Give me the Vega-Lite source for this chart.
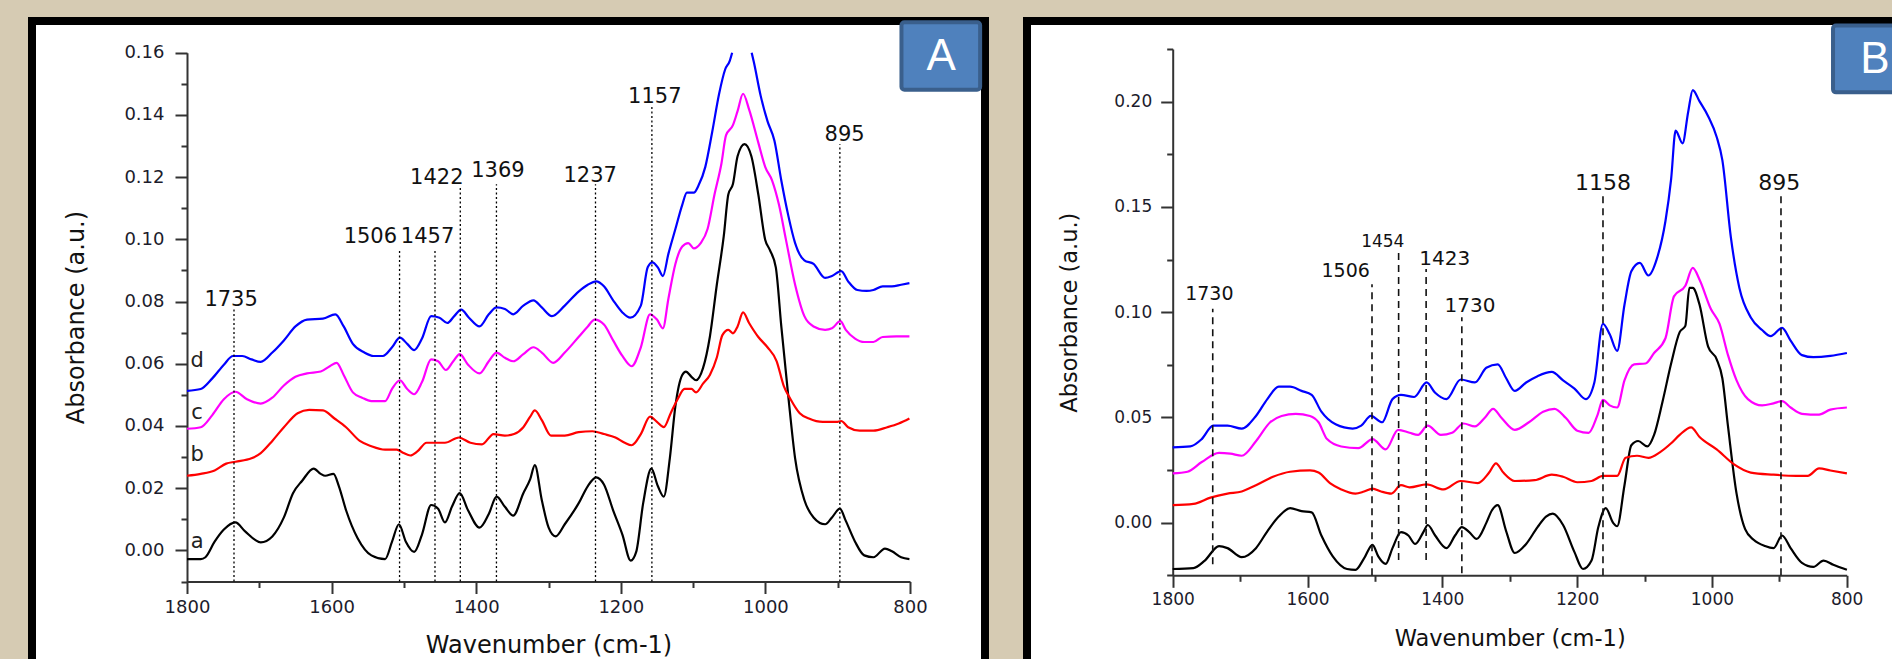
{
"$schema": "https://vega.github.io/schema/vega-lite/v6.json",
"background": "#d6cbb3",
"padding": {"left": 28, "top": 16, "right": 0, "bottom": 0},
"spacing": 34,
"config": {
  "view": {"stroke": "#000000", "strokeWidth": 8, "fill": "#ffffff"},
  "axis": {"grid": false, "domainColor": "#333333", "domainWidth": 2, "tickColor": "#333333", "tickWidth": 2, "labelFont": "DejaVu Sans", "labelColor": "#1c1c2c", "titleFont": "DejaVu Sans", "titleFontWeight": "normal", "titleColor": "#111111", "labelFlush": false, "labelOverlap": false},
  "text": {"font": "DejaVu Sans", "color": "#111111"}
},
"datasets": {
  "A": [
    {"s":"a","wn":1800,"v":-0.0028},{"s":"a","wn":1781,"v":-0.0028},{"s":"a","wn":1774.5,"v":-0.0022},{"s":"a","wn":1761.8,"v":0.0028},{"s":"a","wn":1749,"v":0.0067},{"s":"a","wn":1733,"v":0.009},{"s":"a","wn":1720,"v":0.0062},{"s":"a","wn":1698,"v":0.0026},{"s":"a","wn":1682,"v":0.0045},{"s":"a","wn":1666,"v":0.0106},{"s":"a","wn":1653.4,"v":0.0184},{"s":"a","wn":1640.7,"v":0.0224},{"s":"a","wn":1624.8,"v":0.0263},{"s":"a","wn":1615,"v":0.0246},{"s":"a","wn":1608.8,"v":0.024},{"s":"a","wn":1597.4,"v":0.0246},{"s":"a","wn":1590,"v":0.0207},{"s":"a","wn":1580,"v":0.0129},{"s":"a","wn":1564,"v":0.0039},{"s":"a","wn":1545,"v":-0.0016},{"s":"a","wn":1526,"v":-0.0028},{"s":"a","wn":1516.4,"v":0.0028},{"s":"a","wn":1506.9,"v":0.0084},{"s":"a","wn":1497.3,"v":0.0028},{"s":"a","wn":1485.8,"v":-0.0005},{"s":"a","wn":1475,"v":0.0051},{"s":"a","wn":1462.3,"v":0.0146},{"s":"a","wn":1452.7,"v":0.0134},{"s":"a","wn":1443.2,"v":0.009},{"s":"a","wn":1433.6,"v":0.014},{"s":"a","wn":1422.8,"v":0.0184},{"s":"a","wn":1411.3,"v":0.0129},{"s":"a","wn":1395.4,"v":0.0073},{"s":"a","wn":1382.6,"v":0.0117},{"s":"a","wn":1371.8,"v":0.0173},{"s":"a","wn":1360.3,"v":0.014},{"s":"a","wn":1348.8,"v":0.0112},{"s":"a","wn":1334.8,"v":0.0184},{"s":"a","wn":1325.3,"v":0.0229},{"s":"a","wn":1318.9,"v":0.0274},{"s":"a","wn":1309.3,"v":0.0162},{"s":"a","wn":1299.8,"v":0.0073},{"s":"a","wn":1290.2,"v":0.0045},{"s":"a","wn":1277.5,"v":0.0084},{"s":"a","wn":1258.4,"v":0.0151},{"s":"a","wn":1245.6,"v":0.0207},{"s":"a","wn":1234.1,"v":0.0235},{"s":"a","wn":1223.3,"v":0.0212},{"s":"a","wn":1210.6,"v":0.0129},{"s":"a","wn":1197.8,"v":0.0051},{"s":"a","wn":1186.3,"v":-0.0033},{"s":"a","wn":1178.7,"v":-0.0005},{"s":"a","wn":1169.1,"v":0.0151},{"s":"a","wn":1157.7,"v":0.0263},{"s":"a","wn":1148.8,"v":0.0207},{"s":"a","wn":1140.5,"v":0.0173},{"s":"a","wn":1132.2,"v":0.0296},{"s":"a","wn":1124.5,"v":0.0464},{"s":"a","wn":1115,"v":0.0564},{"s":"a","wn":1109.9,"v":0.0575},{"s":"a","wn":1102.3,"v":0.0558},{"s":"a","wn":1095.9,"v":0.0547},{"s":"a","wn":1086.3,"v":0.0586},{"s":"a","wn":1076.8,"v":0.0687},{"s":"a","wn":1067.2,"v":0.0854},{"s":"a","wn":1057.6,"v":0.101},{"s":"a","wn":1051.3,"v":0.1144},{"s":"a","wn":1044.9,"v":0.1178},{"s":"a","wn":1038.5,"v":0.1267},{"s":"a","wn":1028.9,"v":0.1306},{"s":"a","wn":1019.4,"v":0.1267},{"s":"a","wn":1009.8,"v":0.1144},{"s":"a","wn":1000.3,"v":0.0999},{"s":"a","wn":993.9,"v":0.0966},{"s":"a","wn":985.6,"v":0.091},{"s":"a","wn":978,"v":0.072},{"s":"a","wn":968.4,"v":0.0497},{"s":"a","wn":958.9,"v":0.0296},{"s":"a","wn":946.1,"v":0.0162},{"s":"a","wn":933.4,"v":0.0106},{"s":"a","wn":917.4,"v":0.0084},{"s":"a","wn":907.9,"v":0.0106},{"s":"a","wn":897,"v":0.0134},{"s":"a","wn":888.8,"v":0.0095},{"s":"a","wn":876,"v":0.0028},{"s":"a","wn":863.3,"v":-0.0016},{"s":"a","wn":850.6,"v":-0.0022},{"s":"a","wn":834.6,"v":0.0006},{"s":"a","wn":825,"v":-0.0003},{"s":"a","wn":812.3,"v":-0.0022},{"s":"a","wn":800.8,"v":-0.0028},
    {"s":"b","wn":1800,"v":0.024},{"s":"b","wn":1781,"v":0.0246},{"s":"b","wn":1761.8,"v":0.0257},{"s":"b","wn":1745.8,"v":0.0279},{"s":"b","wn":1733,"v":0.0285},{"s":"b","wn":1710.8,"v":0.0296},{"s":"b","wn":1698,"v":0.0313},{"s":"b","wn":1682,"v":0.0352},{"s":"b","wn":1666,"v":0.0396},{"s":"b","wn":1647,"v":0.0441},{"s":"b","wn":1631,"v":0.0452},{"s":"b","wn":1612,"v":0.045},{"s":"b","wn":1596,"v":0.0424},{"s":"b","wn":1580,"v":0.0396},{"s":"b","wn":1561,"v":0.0352},{"s":"b","wn":1545,"v":0.0335},{"s":"b","wn":1526,"v":0.0324},{"s":"b","wn":1510,"v":0.0324},{"s":"b","wn":1500.5,"v":0.0313},{"s":"b","wn":1491,"v":0.0305},{"s":"b","wn":1481.4,"v":0.0318},{"s":"b","wn":1468.6,"v":0.0346},{"s":"b","wn":1455.9,"v":0.0346},{"s":"b","wn":1443.2,"v":0.0346},{"s":"b","wn":1424,"v":0.0363},{"s":"b","wn":1408,"v":0.0346},{"s":"b","wn":1392,"v":0.0341},{"s":"b","wn":1376,"v":0.0374},{"s":"b","wn":1360.3,"v":0.0369},{"s":"b","wn":1347.6,"v":0.0374},{"s":"b","wn":1334.8,"v":0.0396},{"s":"b","wn":1325.3,"v":0.043},{"s":"b","wn":1318.9,"v":0.045},{"s":"b","wn":1309.3,"v":0.0419},{"s":"b","wn":1296.6,"v":0.0369},{"s":"b","wn":1277.5,"v":0.0369},{"s":"b","wn":1258.4,"v":0.038},{"s":"b","wn":1239.3,"v":0.0383},{"s":"b","wn":1223.3,"v":0.0374},{"s":"b","wn":1207.4,"v":0.0363},{"s":"b","wn":1194.6,"v":0.0346},{"s":"b","wn":1185,"v":0.0338},{"s":"b","wn":1172.3,"v":0.0374},{"s":"b","wn":1159.6,"v":0.043},{"s":"b","wn":1150,"v":0.0413},{"s":"b","wn":1140.5,"v":0.0396},{"s":"b","wn":1131,"v":0.0441},{"s":"b","wn":1121.4,"v":0.0486},{"s":"b","wn":1111.8,"v":0.0519},{"s":"b","wn":1102.3,"v":0.0519},{"s":"b","wn":1095.9,"v":0.0508},{"s":"b","wn":1086.3,"v":0.0536},{"s":"b","wn":1076.8,"v":0.0564},{"s":"b","wn":1067.2,"v":0.062},{"s":"b","wn":1059.5,"v":0.0692},{"s":"b","wn":1051.3,"v":0.0709},{"s":"b","wn":1044.9,"v":0.0698},{"s":"b","wn":1038.5,"v":0.072},{"s":"b","wn":1030.9,"v":0.0765},{"s":"b","wn":1022.6,"v":0.0731},{"s":"b","wn":1009.8,"v":0.0686},{"s":"b","wn":997.1,"v":0.0653},{"s":"b","wn":984.4,"v":0.0608},{"s":"b","wn":974.8,"v":0.053},{"s":"b","wn":965.2,"v":0.0486},{"s":"b","wn":952.5,"v":0.0441},{"s":"b","wn":939.8,"v":0.0424},{"s":"b","wn":920.6,"v":0.0413},{"s":"b","wn":901.5,"v":0.0413},{"s":"b","wn":895.1,"v":0.0416},{"s":"b","wn":885.6,"v":0.0396},{"s":"b","wn":869.6,"v":0.0385},{"s":"b","wn":850.6,"v":0.0385},{"s":"b","wn":831.4,"v":0.0396},{"s":"b","wn":815.5,"v":0.0408},{"s":"b","wn":800.8,"v":0.0424},
    {"s":"c","wn":1800,"v":0.0391},{"s":"c","wn":1781,"v":0.0396},{"s":"c","wn":1765,"v":0.0435},{"s":"c","wn":1749,"v":0.0486},{"s":"c","wn":1733,"v":0.051},{"s":"c","wn":1717,"v":0.0486},{"s":"c","wn":1698,"v":0.0472},{"s":"c","wn":1682,"v":0.0491},{"s":"c","wn":1666,"v":0.053},{"s":"c","wn":1650,"v":0.0558},{"s":"c","wn":1634,"v":0.0569},{"s":"c","wn":1615,"v":0.0575},{"s":"c","wn":1602.5,"v":0.0592},{"s":"c","wn":1593,"v":0.0603},{"s":"c","wn":1583.3,"v":0.0564},{"s":"c","wn":1570.6,"v":0.0508},{"s":"c","wn":1557.9,"v":0.0491},{"s":"c","wn":1545,"v":0.048},{"s":"c","wn":1526,"v":0.048},{"s":"c","wn":1516.4,"v":0.0519},{"s":"c","wn":1505.6,"v":0.0547},{"s":"c","wn":1495.4,"v":0.0519},{"s":"c","wn":1485.8,"v":0.0502},{"s":"c","wn":1475,"v":0.0541},{"s":"c","wn":1462.3,"v":0.0614},{"s":"c","wn":1452.7,"v":0.0608},{"s":"c","wn":1441.9,"v":0.058},{"s":"c","wn":1431.7,"v":0.0608},{"s":"c","wn":1422.8,"v":0.0631},{"s":"c","wn":1411.3,"v":0.0597},{"s":"c","wn":1395.4,"v":0.0569},{"s":"c","wn":1382.6,"v":0.0608},{"s":"c","wn":1371.8,"v":0.0636},{"s":"c","wn":1360.3,"v":0.0619},{"s":"c","wn":1348.8,"v":0.0608},{"s":"c","wn":1334.8,"v":0.0631},{"s":"c","wn":1320.8,"v":0.0653},{"s":"c","wn":1309.3,"v":0.0636},{"s":"c","wn":1293.4,"v":0.0603},{"s":"c","wn":1277.5,"v":0.0636},{"s":"c","wn":1258.4,"v":0.0686},{"s":"c","wn":1245.6,"v":0.072},{"s":"c","wn":1236.1,"v":0.0742},{"s":"c","wn":1223.3,"v":0.0726},{"s":"c","wn":1210.6,"v":0.0675},{"s":"c","wn":1197.8,"v":0.0625},{"s":"c","wn":1185,"v":0.0592},{"s":"c","wn":1172.3,"v":0.0653},{"s":"c","wn":1159.6,"v":0.0759},{"s":"c","wn":1150,"v":0.0742},{"s":"c","wn":1141.8,"v":0.0714},{"s":"c","wn":1134.1,"v":0.081},{"s":"c","wn":1124.5,"v":0.0921},{"s":"c","wn":1115,"v":0.0977},{"s":"c","wn":1106.7,"v":0.0988},{"s":"c","wn":1099,"v":0.0971},{"s":"c","wn":1089.5,"v":0.0988},{"s":"c","wn":1080,"v":0.1033},{"s":"c","wn":1070.4,"v":0.1144},{"s":"c","wn":1060.8,"v":0.1244},{"s":"c","wn":1054.5,"v":0.1334},{"s":"c","wn":1044.9,"v":0.1367},{"s":"c","wn":1038.5,"v":0.1412},{"s":"c","wn":1030.9,"v":0.1468},{"s":"c","wn":1022.6,"v":0.1418},{"s":"c","wn":1009.8,"v":0.1311},{"s":"c","wn":1000.3,"v":0.1233},{"s":"c","wn":990.7,"v":0.1189},{"s":"c","wn":981.2,"v":0.1111},{"s":"c","wn":971.6,"v":0.0999},{"s":"c","wn":958.9,"v":0.0854},{"s":"c","wn":946.1,"v":0.0753},{"s":"c","wn":933.4,"v":0.072},{"s":"c","wn":917.4,"v":0.0709},{"s":"c","wn":907.9,"v":0.0714},{"s":"c","wn":896.4,"v":0.0737},{"s":"c","wn":888.8,"v":0.0709},{"s":"c","wn":876,"v":0.0681},{"s":"c","wn":863.3,"v":0.067},{"s":"c","wn":850.6,"v":0.067},{"s":"c","wn":837.8,"v":0.0686},{"s":"c","wn":818.7,"v":0.0688},{"s":"c","wn":800.8,"v":0.0688},
    {"s":"d","wn":1800,"v":0.0513},{"s":"d","wn":1781,"v":0.0519},{"s":"d","wn":1765,"v":0.0553},{"s":"d","wn":1749,"v":0.0597},{"s":"d","wn":1736.3,"v":0.0625},{"s":"d","wn":1723.5,"v":0.0625},{"s":"d","wn":1710.8,"v":0.0614},{"s":"d","wn":1698,"v":0.0606},{"s":"d","wn":1682,"v":0.0636},{"s":"d","wn":1666,"v":0.0675},{"s":"d","wn":1650,"v":0.072},{"s":"d","wn":1634,"v":0.0742},{"s":"d","wn":1612,"v":0.0745},{"s":"d","wn":1594.8,"v":0.0759},{"s":"d","wn":1583.3,"v":0.072},{"s":"d","wn":1570.6,"v":0.0664},{"s":"d","wn":1554.7,"v":0.0636},{"s":"d","wn":1541.9,"v":0.0625},{"s":"d","wn":1529.2,"v":0.0625},{"s":"d","wn":1516.4,"v":0.0653},{"s":"d","wn":1505.6,"v":0.0684},{"s":"d","wn":1495.4,"v":0.0664},{"s":"d","wn":1485.8,"v":0.0644},{"s":"d","wn":1475,"v":0.0681},{"s":"d","wn":1462.3,"v":0.0753},{"s":"d","wn":1450.8,"v":0.0748},{"s":"d","wn":1440,"v":0.0731},{"s":"d","wn":1430.4,"v":0.0753},{"s":"d","wn":1420.8,"v":0.0774},{"s":"d","wn":1410,"v":0.0748},{"s":"d","wn":1395.4,"v":0.072},{"s":"d","wn":1382.6,"v":0.0759},{"s":"d","wn":1371.8,"v":0.0781},{"s":"d","wn":1360.3,"v":0.0776},{"s":"d","wn":1348.8,"v":0.0759},{"s":"d","wn":1334.8,"v":0.0787},{"s":"d","wn":1320.8,"v":0.0804},{"s":"d","wn":1309.3,"v":0.0781},{"s":"d","wn":1295.3,"v":0.0753},{"s":"d","wn":1277.5,"v":0.0787},{"s":"d","wn":1258.4,"v":0.0832},{"s":"d","wn":1245.6,"v":0.0854},{"s":"d","wn":1234.1,"v":0.0865},{"s":"d","wn":1223.3,"v":0.0849},{"s":"d","wn":1210.6,"v":0.0804},{"s":"d","wn":1197.8,"v":0.0765},{"s":"d","wn":1187,"v":0.0748},{"s":"d","wn":1172.3,"v":0.0787},{"s":"d","wn":1162.8,"v":0.091},{"s":"d","wn":1156.4,"v":0.0926},{"s":"d","wn":1148.8,"v":0.091},{"s":"d","wn":1141.8,"v":0.0882},{"s":"d","wn":1134.1,"v":0.0954},{"s":"d","wn":1124.5,"v":0.1033},{"s":"d","wn":1115,"v":0.1111},{"s":"d","wn":1108.6,"v":0.115},{"s":"d","wn":1099,"v":0.115},{"s":"d","wn":1092.7,"v":0.1172},{"s":"d","wn":1083.1,"v":0.1233},{"s":"d","wn":1073.6,"v":0.1345},{"s":"d","wn":1064,"v":0.1468},{"s":"d","wn":1055.7,"v":0.1546},{"s":"d","wn":1049.3,"v":0.1574},{"s":"d","wn":1046,"v":0.16},
    {"s":"d","p":2,"wn":1019,"v":0.16},{"s":"d","p":2,"wn":1016,"v":0.157},{"s":"d","p":2,"wn":1006.6,"v":0.1462},{"s":"d","p":2,"wn":997,"v":0.1379},{"s":"d","p":2,"wn":987.5,"v":0.1317},{"s":"d","p":2,"wn":978,"v":0.1189},{"s":"d","p":2,"wn":968.4,"v":0.1077},{"s":"d","p":2,"wn":958.9,"v":0.0988},{"s":"d","p":2,"wn":946.1,"v":0.0932},{"s":"d","p":2,"wn":933.4,"v":0.0921},{"s":"d","p":2,"wn":917.4,"v":0.0876},{"s":"d","p":2,"wn":907.9,"v":0.0882},{"s":"d","p":2,"wn":895.1,"v":0.0898},{"s":"d","p":2,"wn":885.6,"v":0.0865},{"s":"d","p":2,"wn":872.8,"v":0.0837},{"s":"d","p":2,"wn":860.1,"v":0.0834},{"s":"d","p":2,"wn":850.6,"v":0.0837},{"s":"d","p":2,"wn":837.8,"v":0.0849},{"s":"d","p":2,"wn":825,"v":0.0849},{"s":"d","p":2,"wn":812.3,"v":0.0854},{"s":"d","p":2,"wn":800.8,"v":0.0859}
  ],
  "B": [
    {"s":"a","wn":1800,"v":-0.022},{"s":"a","wn":1769.3,"v":-0.0216},{"s":"a","wn":1752.4,"v":-0.018},{"s":"a","wn":1731.3,"v":-0.0111},{"s":"a","wn":1718.7,"v":-0.0121},{"s":"a","wn":1697.6,"v":-0.0164},{"s":"a","wn":1676.5,"v":-0.0121},{"s":"a","wn":1659.6,"v":-0.0041},{"s":"a","wn":1642.7,"v":0.0029},{"s":"a","wn":1625.8,"v":0.0069},{"s":"a","wn":1608.9,"v":0.0055},{"s":"a","wn":1593.8,"v":0.0049},{"s":"a","wn":1579.4,"v":-0.0061},{"s":"a","wn":1562.5,"v":-0.016},{"s":"a","wn":1541.4,"v":-0.022},{"s":"a","wn":1528.8,"v":-0.0224},{"s":"a","wn":1516.1,"v":-0.017},{"s":"a","wn":1503.5,"v":-0.0105},{"s":"a","wn":1495,"v":-0.016},{"s":"a","wn":1484,"v":-0.0196},{"s":"a","wn":1473.9,"v":-0.0121},{"s":"a","wn":1461.3,"v":-0.0045},{"s":"a","wn":1450.3,"v":-0.0061},{"s":"a","wn":1440.2,"v":-0.0101},{"s":"a","wn":1427.5,"v":-0.0041},{"s":"a","wn":1421.6,"v":-0.0011},{"s":"a","wn":1410.6,"v":-0.0061},{"s":"a","wn":1393.8,"v":-0.0121},{"s":"a","wn":1381.1,"v":-0.0061},{"s":"a","wn":1371,"v":-0.0021},{"s":"a","wn":1360,"v":-0.0045},{"s":"a","wn":1349,"v":-0.0077},{"s":"a","wn":1334.7,"v":-0.0001},{"s":"a","wn":1326.3,"v":0.0059},{"s":"a","wn":1317.8,"v":0.0083},{"s":"a","wn":1305.2,"v":-0.0041},{"s":"a","wn":1292.5,"v":-0.0144},{"s":"a","wn":1275.6,"v":-0.0101},{"s":"a","wn":1258.7,"v":-0.0021},{"s":"a","wn":1246.1,"v":0.0029},{"s":"a","wn":1236,"v":0.0043},{"s":"a","wn":1220.8,"v":-0.0011},{"s":"a","wn":1203.9,"v":-0.014},{"s":"a","wn":1191.3,"v":-0.022},{"s":"a","wn":1178.6,"v":-0.018},{"s":"a","wn":1168.5,"v":-0.0021},{"s":"a","wn":1157.5,"v":0.0069},{"s":"a","wn":1146.5,"v":-0.0001},{"s":"a","wn":1140.6,"v":-0.0017},{"s":"a","wn":1129.7,"v":0.0178},{"s":"a","wn":1119.5,"v":0.0368},{"s":"a","wn":1109.4,"v":0.0388},{"s":"a","wn":1095.9,"v":0.0362},{"s":"a","wn":1085.8,"v":0.0417},{"s":"a","wn":1073.1,"v":0.0577},{"s":"a","wn":1060.5,"v":0.0756},{"s":"a","wn":1047.8,"v":0.0905},{"s":"a","wn":1039.4,"v":0.0935},{"s":"a","wn":1033.4,"v":0.1115},{"s":"a","wn":1028.4,"v":0.1115},{"s":"a","wn":1018.3,"v":0.1035},{"s":"a","wn":1005.6,"v":0.0836},{"s":"a","wn":992.9,"v":0.0776},{"s":"a","wn":984.5,"v":0.0686},{"s":"a","wn":976.1,"v":0.0457},{"s":"a","wn":963.4,"v":0.0138},{"s":"a","wn":950.7,"v":-0.0031},{"s":"a","wn":938.1,"v":-0.0081},{"s":"a","wn":921.2,"v":-0.0111},{"s":"a","wn":908.5,"v":-0.0121},{"s":"a","wn":895.9,"v":-0.0061},{"s":"a","wn":883.2,"v":-0.0121},{"s":"a","wn":866.4,"v":-0.0191},{"s":"a","wn":849.5,"v":-0.021},{"s":"a","wn":834.3,"v":-0.018},{"s":"a","wn":819.9,"v":-0.02},{"s":"a","wn":799.7,"v":-0.0224},
    {"s":"b","wn":1800,"v":0.0083},{"s":"b","wn":1769.3,"v":0.0089},{"s":"b","wn":1744,"v":0.0119},{"s":"b","wn":1718.7,"v":0.0138},{"s":"b","wn":1697.6,"v":0.0148},{"s":"b","wn":1676.5,"v":0.0178},{"s":"b","wn":1651.2,"v":0.0218},{"s":"b","wn":1625.8,"v":0.0242},{"s":"b","wn":1596.3,"v":0.0248},{"s":"b","wn":1583.6,"v":0.0238},{"s":"b","wn":1566.7,"v":0.0188},{"s":"b","wn":1549.9,"v":0.0158},{"s":"b","wn":1528.8,"v":0.0138},{"s":"b","wn":1516.1,"v":0.0148},{"s":"b","wn":1503.5,"v":0.0162},{"s":"b","wn":1490.8,"v":0.0148},{"s":"b","wn":1475.6,"v":0.0138},{"s":"b","wn":1461.3,"v":0.0178},{"s":"b","wn":1448.6,"v":0.0168},{"s":"b","wn":1423.3,"v":0.0182},{"s":"b","wn":1398,"v":0.0158},{"s":"b","wn":1372.7,"v":0.0198},{"s":"b","wn":1347.3,"v":0.0188},{"s":"b","wn":1330.5,"v":0.0238},{"s":"b","wn":1320.4,"v":0.0282},{"s":"b","wn":1309.4,"v":0.0238},{"s":"b","wn":1292.5,"v":0.0198},{"s":"b","wn":1263,"v":0.0202},{"s":"b","wn":1237.6,"v":0.0228},{"s":"b","wn":1220.8,"v":0.0218},{"s":"b","wn":1199.7,"v":0.0192},{"s":"b","wn":1178.6,"v":0.0198},{"s":"b","wn":1161.7,"v":0.0222},{"s":"b","wn":1140.6,"v":0.0222},{"s":"b","wn":1128,"v":0.0308},{"s":"b","wn":1111.1,"v":0.0318},{"s":"b","wn":1094.2,"v":0.0308},{"s":"b","wn":1077.3,"v":0.0334},{"s":"b","wn":1060.5,"v":0.0377},{"s":"b","wn":1047.8,"v":0.0417},{"s":"b","wn":1030.9,"v":0.0453},{"s":"b","wn":1018.3,"v":0.0407},{"s":"b","wn":992.9,"v":0.0348},{"s":"b","wn":967.6,"v":0.0278},{"s":"b","wn":942.3,"v":0.0238},{"s":"b","wn":908.5,"v":0.0228},{"s":"b","wn":874.8,"v":0.0222},{"s":"b","wn":857.9,"v":0.0222},{"s":"b","wn":841,"v":0.0258},{"s":"b","wn":824.2,"v":0.0248},{"s":"b","wn":799.7,"v":0.0234},
    {"s":"c","wn":1800,"v":0.0234},{"s":"c","wn":1778,"v":0.0242},{"s":"c","wn":1756.9,"v":0.0288},{"s":"c","wn":1731.3,"v":0.0332},{"s":"c","wn":1714.4,"v":0.0328},{"s":"c","wn":1697.6,"v":0.0318},{"s":"c","wn":1676.5,"v":0.0387},{"s":"c","wn":1655.4,"v":0.0477},{"s":"c","wn":1638.5,"v":0.0507},{"s":"c","wn":1617.4,"v":0.0517},{"s":"c","wn":1596.3,"v":0.0507},{"s":"c","wn":1583.6,"v":0.0477},{"s":"c","wn":1571,"v":0.0397},{"s":"c","wn":1549.9,"v":0.0362},{"s":"c","wn":1524.6,"v":0.0354},{"s":"c","wn":1503.5,"v":0.0397},{"s":"c","wn":1484,"v":0.0348},{"s":"c","wn":1465.5,"v":0.0441},{"s":"c","wn":1448.6,"v":0.0427},{"s":"c","wn":1436,"v":0.0417},{"s":"c","wn":1421.6,"v":0.0461},{"s":"c","wn":1402.2,"v":0.0417},{"s":"c","wn":1385.4,"v":0.0427},{"s":"c","wn":1368.5,"v":0.0471},{"s":"c","wn":1351.6,"v":0.0457},{"s":"c","wn":1337.3,"v":0.0497},{"s":"c","wn":1324.6,"v":0.0541},{"s":"c","wn":1312,"v":0.0497},{"s":"c","wn":1292.5,"v":0.0441},{"s":"c","wn":1271.5,"v":0.0477},{"s":"c","wn":1250.4,"v":0.0527},{"s":"c","wn":1233.5,"v":0.0541},{"s":"c","wn":1216.6,"v":0.0497},{"s":"c","wn":1199.7,"v":0.0437},{"s":"c","wn":1182.8,"v":0.0427},{"s":"c","wn":1170.2,"v":0.0507},{"s":"c","wn":1161.7,"v":0.0583},{"s":"c","wn":1151.6,"v":0.0557},{"s":"c","wn":1140.6,"v":0.0547},{"s":"c","wn":1129.7,"v":0.0676},{"s":"c","wn":1115.4,"v":0.0752},{"s":"c","wn":1098.5,"v":0.0756},{"s":"c","wn":1085.8,"v":0.0806},{"s":"c","wn":1068.9,"v":0.0876},{"s":"c","wn":1056.3,"v":0.1075},{"s":"c","wn":1039.4,"v":0.1125},{"s":"c","wn":1028.4,"v":0.121},{"s":"c","wn":1018.3,"v":0.1154},{"s":"c","wn":1001.5,"v":0.1015},{"s":"c","wn":988.8,"v":0.0945},{"s":"c","wn":976.1,"v":0.0796},{"s":"c","wn":963.4,"v":0.0676},{"s":"c","wn":946.6,"v":0.0587},{"s":"c","wn":925.5,"v":0.0557},{"s":"c","wn":908.5,"v":0.0567},{"s":"c","wn":895.9,"v":0.0577},{"s":"c","wn":883.2,"v":0.0547},{"s":"c","wn":866.4,"v":0.0517},{"s":"c","wn":841,"v":0.0513},{"s":"c","wn":824.2,"v":0.0537},{"s":"c","wn":799.7,"v":0.0547},
    {"s":"d","wn":1800,"v":0.0358},{"s":"d","wn":1773.8,"v":0.0362},{"s":"d","wn":1756.9,"v":0.0397},{"s":"d","wn":1740,"v":0.0461},{"s":"d","wn":1718.7,"v":0.0461},{"s":"d","wn":1697.6,"v":0.0447},{"s":"d","wn":1676.5,"v":0.0507},{"s":"d","wn":1659.6,"v":0.0587},{"s":"d","wn":1642.7,"v":0.0646},{"s":"d","wn":1625.8,"v":0.0646},{"s":"d","wn":1608.9,"v":0.0626},{"s":"d","wn":1593.8,"v":0.0607},{"s":"d","wn":1579.4,"v":0.0527},{"s":"d","wn":1558.3,"v":0.0467},{"s":"d","wn":1533,"v":0.0447},{"s":"d","wn":1520.3,"v":0.0461},{"s":"d","wn":1506,"v":0.0507},{"s":"d","wn":1489.1,"v":0.0477},{"s":"d","wn":1473.9,"v":0.0587},{"s":"d","wn":1461.3,"v":0.0607},{"s":"d","wn":1441.8,"v":0.0597},{"s":"d","wn":1423.3,"v":0.0666},{"s":"d","wn":1410.6,"v":0.0617},{"s":"d","wn":1393.8,"v":0.0587},{"s":"d","wn":1372.7,"v":0.068},{"s":"d","wn":1351.6,"v":0.0666},{"s":"d","wn":1334.7,"v":0.0736},{"s":"d","wn":1317.8,"v":0.0752},{"s":"d","wn":1305.2,"v":0.0686},{"s":"d","wn":1292.5,"v":0.0626},{"s":"d","wn":1275.6,"v":0.0666},{"s":"d","wn":1258.7,"v":0.0696},{"s":"d","wn":1237.6,"v":0.0716},{"s":"d","wn":1220.8,"v":0.0676},{"s":"d","wn":1203.9,"v":0.0637},{"s":"d","wn":1187,"v":0.0587},{"s":"d","wn":1174.4,"v":0.0666},{"s":"d","wn":1161.7,"v":0.0945},{"s":"d","wn":1151.6,"v":0.0895},{"s":"d","wn":1140.6,"v":0.0816},{"s":"d","wn":1129.7,"v":0.1035},{"s":"d","wn":1119.5,"v":0.1194},{"s":"d","wn":1106.9,"v":0.1234},{"s":"d","wn":1094.2,"v":0.1174},{"s":"d","wn":1081.6,"v":0.1254},{"s":"d","wn":1068.9,"v":0.1433},{"s":"d","wn":1060.5,"v":0.1632},{"s":"d","wn":1053.8,"v":0.1862},{"s":"d","wn":1043.6,"v":0.1802},{"s":"d","wn":1035.2,"v":0.1951},{"s":"d","wn":1028.4,"v":0.2055},{"s":"d","wn":1018.3,"v":0.2001},{"s":"d","wn":1005.6,"v":0.1931},{"s":"d","wn":992.9,"v":0.1832},{"s":"d","wn":984.5,"v":0.1722},{"s":"d","wn":971.8,"v":0.1354},{"s":"d","wn":959.2,"v":0.1115},{"s":"d","wn":942.3,"v":0.0975},{"s":"d","wn":925.5,"v":0.0915},{"s":"d","wn":912.8,"v":0.0886},{"s":"d","wn":895.9,"v":0.0925},{"s":"d","wn":883.2,"v":0.0865},{"s":"d","wn":866.4,"v":0.0796},{"s":"d","wn":849.5,"v":0.0786},{"s":"d","wn":824.2,"v":0.0792},{"s":"d","wn":799.7,"v":0.0806}
  ],
  "Alines": [
    {"wn":1735,"bot":-0.01,"top":0.0776},{"wn":1506,"bot":-0.01,"top":0.0966},{"wn":1457,"bot":-0.01,"top":0.0966},{"wn":1422,"bot":-0.01,"top":0.1166},{"wn":1372,"bot":-0.01,"top":0.1177},{"wn":1235,"bot":-0.01,"top":0.1177},{"wn":1157,"bot":-0.01,"top":0.1428},{"wn":897,"bot":-0.01,"top":0.1306}
  ],
  "Alabels": [
    {"lab":"1735","wn":1739,"v":0.0804},{"lab":"1506","wn":1546.4,"v":0.1006},{"lab":"1457","wn":1467.3,"v":0.1006},{"lab":"1422","wn":1454.5,"v":0.1196},{"lab":"1369","wn":1370,"v":0.122},{"lab":"1237","wn":1242.4,"v":0.1205},{"lab":"1157","wn":1153,"v":0.1458},{"lab":"895","wn":890.5,"v":0.1337}
  ],
  "Aletters": [
    {"lab":"d","wn":1786,"v":0.0608},{"lab":"c","wn":1786,"v":0.0441},{"lab":"b","wn":1786,"v":0.0307},{"lab":"a","wn":1786,"v":0.0028}
  ],
  "Abox": [{"lab":"A","x1":811.8,"x2":703,"y1":0.1481,"y2":0.1698,"tx":756.9,"ty":0.1585}],
  "Blines": [
    {"wn":1740.6,"bot":-0.0198,"top":0.1016},{"wn":1504.3,"bot":-0.025,"top":0.1133},{"wn":1464.8,"bot":-0.0177,"top":0.1284},{"wn":1424,"bot":-0.0177,"top":0.1205},{"wn":1371,"bot":-0.024,"top":0.0976},{"wn":1161.6,"bot":-0.025,"top":0.1554},{"wn":897.5,"bot":-0.025,"top":0.1554}
  ],
  "Blabels": [
    {"lab":"1730","wn":1745.7,"v":0.1085,"g":"m"},{"lab":"1506","wn":1543.4,"v":0.1195,"g":"m"},{"lab":"1454","wn":1488.3,"v":0.1334,"g":"s"},{"lab":"1423","wn":1396.3,"v":0.1251,"g":"l"},{"lab":"1730","wn":1359,"v":0.1031,"g":"l"},{"lab":"1158","wn":1161.6,"v":0.1613,"g":"x"},{"lab":"895","wn":900,"v":0.1613,"g":"x"}
  ],
  "Bbox": [{"lab":"B","x1":820.3,"x2":712,"y1":0.2044,"y2":0.2362,"tx":758,"ty":0.22}]
},
"hconcat": [
  {
    "width": 953, "height": 650,
    "resolve": {"axis": {"y": "independent"}},
    "layer": [
      {
        "data": {"name": "A"},
        "mark": {"type": "line", "strokeWidth": 2.2, "interpolate": "monotone"},
        "encoding": {
          "x": {"field": "wn", "type": "quantitative",
                "scale": {"domain": [1800, 800], "range": [155, 878], "nice": false, "zero": false},
                "axis": {"title": "Wavenumber (cm-1)", "orient": "bottom", "offset": -89.5, "format": "d",
                         "values": [1800,1700,1600,1500,1400,1300,1200,1100,1000,900,800],
                         "tickSize": {"condition": {"test": "datum.value % 200 !== 0", "value": 6}, "value": 12},
                         "labelExpr": "datum.value % 200 === 0 ? datum.label : ''",
                         "labelFontSize": 18, "labelPadding": 5, "titleFontSize": 24, "titlePadding": 17}},
          "y": {"field": "v", "type": "quantitative",
                "scale": {"domain": [-0.01, 0.16], "range": [560.5, 31.7], "nice": false, "zero": false},
                "axis": {"title": "Absorbance (a.u.)", "orient": "left", "offset": -155, "format": ".2f",
                         "values": [0,0.02,0.04,0.06,0.08,0.1,0.12,0.14,0.16],
                         "tickSize": 12,
                         "labelFontSize": 18, "labelPadding": 11, "titleFontSize": 24, "titlePadding": 35}},
          "color": {"field": "s", "type": "nominal", "scale": {"domain": ["a","b","c","d"], "range": ["#000000","#ff0000","#ff00ff","#0000ff"]}, "legend": null},
          "detail": {"field": "p", "type": "nominal"}
        }
      },
      {
        "data": {"name": "Alines"},
        "mark": {"type": "rule", "color": "#000000", "strokeWidth": 1.3, "strokeDash": [2, 2.5]},
        "encoding": {"x": {"field": "wn", "type": "quantitative"},
                     "y": {"field": "bot", "type": "quantitative",
                           "axis": {"title": null, "orient": "left", "offset": -155, "values": [-0.01,0.01,0.03,0.05,0.07,0.09,0.11,0.13,0.15],
                                    "tickSize": 6, "labels": false, "domain": false}},
                     "y2": {"field": "top"}}
      },
      {
        "data": {"name": "Alabels"},
        "mark": {"type": "text", "fontSize": 21, "align": "center", "baseline": "middle", "color": "#111111"},
        "encoding": {"x": {"field": "wn", "type": "quantitative"}, "y": {"field": "v", "type": "quantitative", "axis": null}, "text": {"field": "lab"}}
      },
      {
        "data": {"name": "Aletters"},
        "mark": {"type": "text", "fontSize": 21, "align": "center", "baseline": "middle", "color": "#222222"},
        "encoding": {"x": {"field": "wn", "type": "quantitative"}, "y": {"field": "v", "type": "quantitative", "axis": null}, "text": {"field": "lab"}}
      },
      {
        "data": {"name": "Abox"},
        "mark": {"type": "rect", "fill": "#4f81bd", "stroke": "#3a5f8c", "strokeWidth": 4, "cornerRadius": 3},
        "encoding": {"x": {"field": "x1", "type": "quantitative"}, "x2": {"field": "x2"}, "y": {"field": "y1", "type": "quantitative", "axis": null}, "y2": {"field": "y2"}}
      },
      {
        "data": {"name": "Abox"},
        "mark": {"type": "text", "font": "Liberation Sans", "fontSize": 44, "align": "center", "baseline": "middle", "color": "#ffffff"},
        "encoding": {"x": {"field": "tx", "type": "quantitative"}, "y": {"field": "ty", "type": "quantitative", "axis": null}, "text": {"field": "lab"}}
      }
    ]
  },
  {
    "width": 880, "height": 650,
    "layer": [
      {
        "data": {"name": "B"},
        "mark": {"type": "line", "strokeWidth": 2.2, "interpolate": "monotone"},
        "encoding": {
          "x": {"field": "wn", "type": "quantitative",
                "scale": {"domain": [1800, 800], "range": [145.7, 819.7], "nice": false, "zero": false},
                "axis": {"title": "Wavenumber (cm-1)", "orient": "bottom", "offset": -95.7, "format": "d",
                         "values": [1800,1700,1600,1500,1400,1300,1200,1100,1000,900,800],
                         "tickSize": {"condition": {"test": "datum.value % 200 !== 0", "value": 6}, "value": 12},
                         "labelExpr": "datum.value % 200 === 0 ? datum.label : ''",
                         "labelFontSize": 17, "labelPadding": 4, "titleFontSize": 22.5, "titlePadding": 20}},
          "y": {"field": "v", "type": "quantitative",
                "scale": {"domain": [-0.025, 0.225], "range": [554.3, 28], "nice": false, "zero": false},
                "axis": {"title": "Absorbance (a.u.)", "orient": "left", "offset": -145.7, "format": ".2f",
                         "values": [-0.025,0,0.025,0.05,0.075,0.1,0.125,0.15,0.175,0.2,0.225],
                         "tickSize": {"condition": {"test": "round(datum.value*1000) % 50 !== 0", "value": 6}, "value": 12},
                         "labelExpr": "round(datum.value*1000) % 50 === 0 ? datum.label : ''",
                         "labelFontSize": 17, "labelPadding": 9, "titleFontSize": 22.5, "titlePadding": 32}},
          "color": {"field": "s", "type": "nominal", "scale": {"domain": ["a","b","c","d"], "range": ["#000000","#ff0000","#ff00ff","#0000ff"]}, "legend": null}
        }
      },
      {
        "data": {"name": "Blines"},
        "mark": {"type": "rule", "color": "#111111", "strokeWidth": 1.6, "strokeDash": [7, 5]},
        "encoding": {"x": {"field": "wn", "type": "quantitative"}, "y": {"field": "bot", "type": "quantitative"}, "y2": {"field": "top"}}
      },
      {
        "data": {"name": "Blabels"},
        "transform": [{"filter": "datum.g === 's'"}],
        "mark": {"type": "text", "fontSize": 17, "align": "center", "baseline": "middle", "color": "#111111"},
        "encoding": {"x": {"field": "wn", "type": "quantitative"}, "y": {"field": "v", "type": "quantitative"}, "text": {"field": "lab"}}
      },
      {
        "data": {"name": "Blabels"},
        "transform": [{"filter": "datum.g === 'm'"}],
        "mark": {"type": "text", "fontSize": 19, "align": "center", "baseline": "middle", "color": "#111111"},
        "encoding": {"x": {"field": "wn", "type": "quantitative"}, "y": {"field": "v", "type": "quantitative"}, "text": {"field": "lab"}}
      },
      {
        "data": {"name": "Blabels"},
        "transform": [{"filter": "datum.g === 'l'"}],
        "mark": {"type": "text", "fontSize": 20, "align": "center", "baseline": "middle", "color": "#111111"},
        "encoding": {"x": {"field": "wn", "type": "quantitative"}, "y": {"field": "v", "type": "quantitative"}, "text": {"field": "lab"}}
      },
      {
        "data": {"name": "Blabels"},
        "transform": [{"filter": "datum.g === 'x'"}],
        "mark": {"type": "text", "fontSize": 22, "align": "center", "baseline": "middle", "color": "#111111"},
        "encoding": {"x": {"field": "wn", "type": "quantitative"}, "y": {"field": "v", "type": "quantitative"}, "text": {"field": "lab"}}
      },
      {
        "data": {"name": "Bbox"},
        "mark": {"type": "rect", "fill": "#4f81bd", "stroke": "#3a5f8c", "strokeWidth": 4, "cornerRadius": 3},
        "encoding": {"x": {"field": "x1", "type": "quantitative"}, "x2": {"field": "x2"}, "y": {"field": "y1", "type": "quantitative"}, "y2": {"field": "y2"}}
      },
      {
        "data": {"name": "Bbox"},
        "mark": {"type": "text", "font": "Liberation Sans", "fontSize": 44, "align": "center", "baseline": "middle", "color": "#ffffff"},
        "encoding": {"x": {"field": "tx", "type": "quantitative"}, "y": {"field": "ty", "type": "quantitative"}, "text": {"field": "lab"}}
      }
    ]
  }
]
}
